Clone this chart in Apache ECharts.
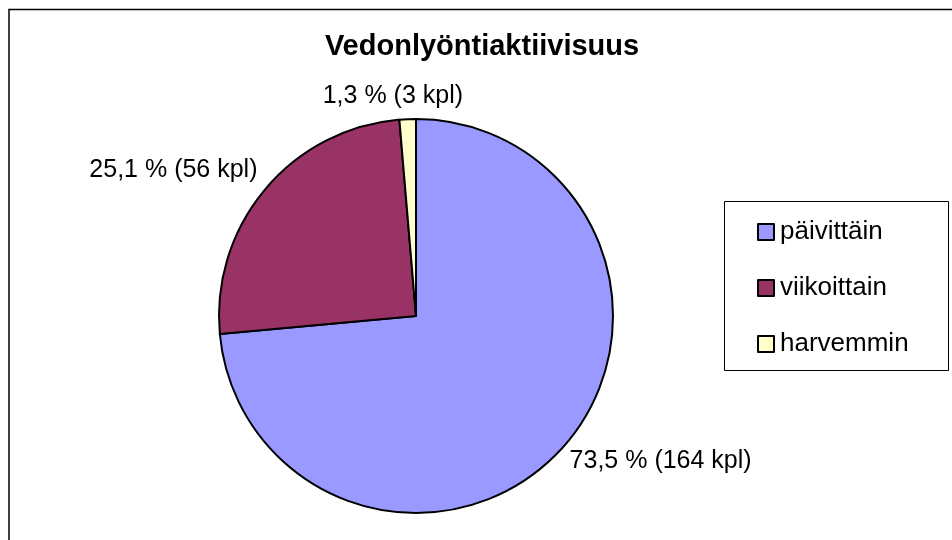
<!DOCTYPE html>
<html>
<head>
<meta charset="utf-8">
<script src="https://cdn.jsdelivr.net/npm/echarts@6/dist/echarts.min.js"></script>
<style>
  html, body { margin: 0; padding: 0; background: #fff; }
  #chart { width: 952px; height: 540px; }
</style>
</head>
<body>
<div id="chart"></div>
<script>
// vedonlyönti-aktiivisuus, kpl vastaajia
const categories = ['päivittäin', 'viikoittain', 'harvemmin'];
const counts = [164, 56, 3];
const percents = ['73,5', '25,1', '1,3'];
const colors = ['#9999FF', '#993366', '#FFFFCC'];

const FONT = '"Liberation Sans", Arial, sans-serif';

// Excel siirtää otsikoita hieman, siirrot pikseleinä ECharts-paikasta
const labelShift = [[-8, 2], [9, -10], [61, -8]];

const chart = echarts.init(document.getElementById('chart'));

const option = {
  backgroundColor: '#fff',
  animation: false,
  title: {
    text: 'Vedonlyöntiaktiivisuus',
    left: 477,
    top: 27,
    textAlign: 'center',
    textStyle: { fontFamily: FONT, fontSize: 29, fontWeight: 'bold', color: '#000' }
  },
  legend: {
    orient: 'vertical',
    left: 757,
    top: 219,
    padding: 0,
    itemWidth: 16,
    itemHeight: 16,
    itemGap: 30,
    icon: 'rect',
    data: categories,
    itemStyle: { borderColor: '#000', borderWidth: 2 },
    textStyle: { fontFamily: FONT, fontSize: 26, color: '#000', padding: [0, 0, 0, 1] }
  },
  graphic: [
    { // kaavion kehys (oikea ja ala reuna jäävät kuvan ulkopuolelle)
      type: 'rect',
      shape: { x: 9, y: 9.5, width: 2000, height: 2000 },
      style: { fill: 'none', stroke: '#000', lineWidth: 1.5 },
      silent: true
    },
    { // selitteen laatikko
      type: 'rect',
      shape: { x: 724.5, y: 201.5, width: 224, height: 169 },
      style: { fill: 'none', stroke: '#000', lineWidth: 1 },
      silent: true
    }
  ],
  series: [{
    type: 'pie',
    center: [416, 316],
    radius: 197,
    startAngle: 90,
    clockwise: true,
    avoidLabelOverlap: false,
    itemStyle: { borderColor: '#000', borderWidth: 2 },
    label: {
      show: true,
      position: 'outside',
      fontFamily: FONT,
      fontSize: 25,
      color: '#000',
      formatter: p => percents[p.dataIndex] + ' % (' + p.value + ' kpl)'
    },
    labelLine: { show: false, length: 15, length2: 0 },
    labelLayout: p => ({ dx: labelShift[p.dataIndex][0], dy: labelShift[p.dataIndex][1] }),
    emphasis: { disabled: true },
    data: categories.map((c, i) => ({
      name: c,
      value: counts[i],
      itemStyle: { color: colors[i] }
    }))
  }]
};

chart.setOption(option);
</script>
</body>
</html>
